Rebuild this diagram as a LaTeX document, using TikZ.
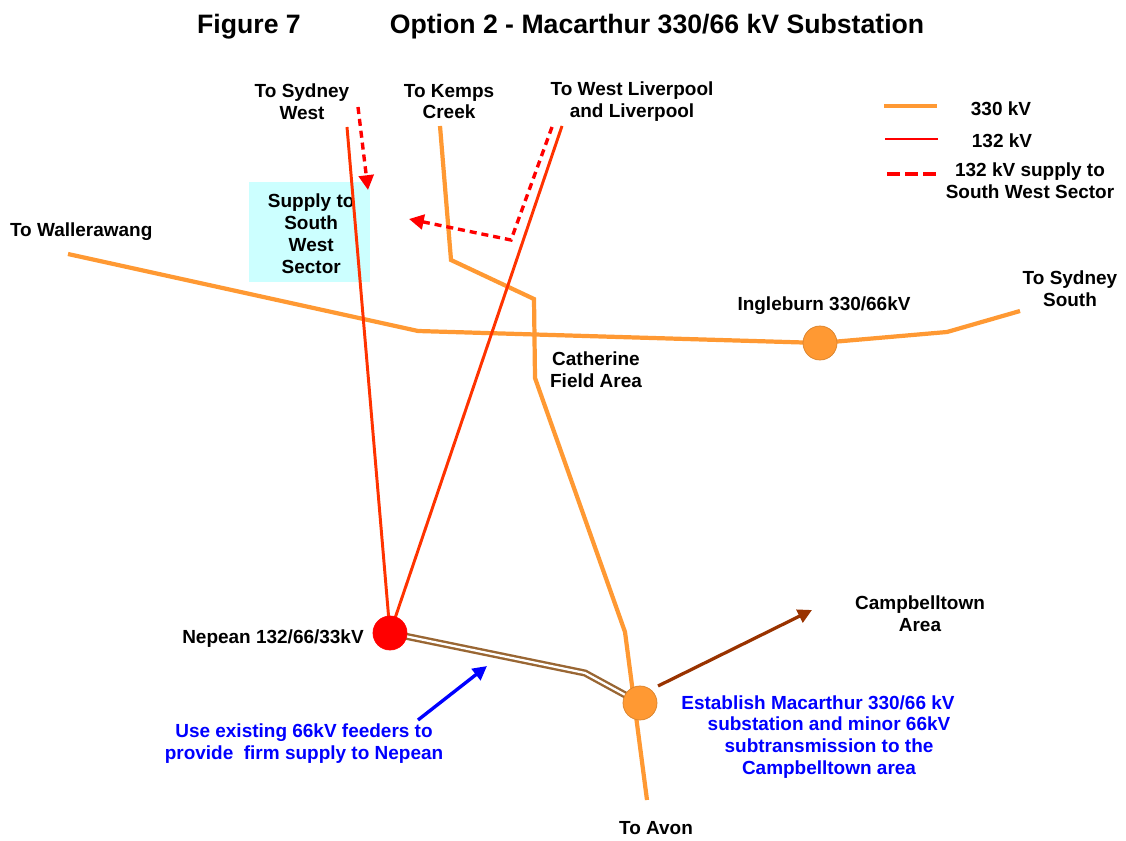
\documentclass[tikz,border=0pt]{standalone}
\usepackage{fontspec}
\setmainfont{Liberation Sans}
\usetikzlibrary{arrows.meta}
\definecolor{line330}{HTML}{FF9933}
\definecolor{line132}{HTML}{FF3300}
\definecolor{supply}{HTML}{FF0000}
\definecolor{feeder}{HTML}{996633}
\definecolor{newsub}{HTML}{993300}
\definecolor{sector}{HTML}{CCFFFF}
\tikzset{
  lbl/.style={font=\bfseries\fontsize{13.5}{15.6}\selectfont,align=center,inner sep=0pt},
  note/.style={lbl,text=blue},
  ttl/.style={font=\bfseries\fontsize{18.95}{22}\selectfont,inner sep=0pt},
  hv/.style={line330,line width=3pt,line join=miter},
  lv/.style={line132,line width=2.1pt},
  sup/.style={supply,line width=2.4pt,dash pattern=on 5pt off 3.5pt,
    -{Triangle[length=10.5pt,width=10.5pt]}},
  sub/.style={circle,minimum size=24.2pt,inner sep=0pt,line width=0.5pt}
}

\begin{document}
\begin{tikzpicture}
\useasboundingbox (0,0) rectangle (28.15,21);

% title
\node[ttl] (figno) at (6.225,20.34) {Figure 7};
\node[ttl] (title) at (16.425,20.34) {Option 2 - Macarthur 330/66 kV Substation};

% sector box
\node[fill=sector,inner sep=0pt,minimum width=3.025cm,minimum height=2.5cm] (sector)
    at (7.74,15.2) {};
\node[lbl] (sectorName) at (7.78,15.15) {Supply to\\South\\West\\Sector};

% substations and line ends
\coordinate (nepean) at (9.75,5.175);
\coordinate (macarthur) at (16,3.425);
\coordinate (ingleburn) at (20.5,12.425);
\coordinate (wallEnd) at (1.7,14.65);
\coordinate (wallBend) at (10.45,12.725);
\coordinate (southBend) at (23.675,12.7);
\coordinate (southEnd) at (25.5,13.225);
\coordinate (kempsEnd) at (11,17.85);
\coordinate (kempsA) at (11.275,14.5);
\coordinate (kempsB) at (13.35,13.525);
\coordinate (kempsC) at (13.375,11.55);
\coordinate (kempsD) at (15.625,5.2);
\coordinate (avonEnd) at (16.175,1);
\coordinate (westEnd) at (8.675,17.825);
\coordinate (livEnd) at (14.05,17.85);
\coordinate (feederBend) at (14.625,4.175);

% 330 kV
\draw[hv] (wallEnd) -- (wallBend) -- (ingleburn) -- (southBend) -- (southEnd);
\draw[hv] (kempsEnd) -- (kempsA) -- (kempsB) -- (kempsC) -- (kempsD)
    -- (avonEnd);

% 132 kV
\draw[lv] (westEnd) -- (nepean);
\draw[lv] (livEnd) -- (nepean);

% 132 kV supply
\coordinate (supAStart) at (8.95,18.325);
\coordinate (supAEnd) at (9.2,16.25);
\coordinate (supBStart) at (13.8,17.825);
\coordinate (supBBend) at (12.775,15);
\coordinate (supBEnd) at (10.225,15.525);
\draw[sup] (supAStart) -- (supAEnd);
\draw[sup] (supBStart) -- (supBBend) -- (supBEnd);

% existing feeders
\draw[feeder,line width=1.7pt,double=white,double distance=1.6pt]
    (nepean) -- (feederBend) -- (macarthur);

% substations
\node[sub,fill=supply,draw=supply] (nepeanSub) at (nepean) {};
\node[sub,fill=line330,draw=line330!85!black] (macarthurSub) at (macarthur) {};
\node[sub,fill=line330,draw=line330!85!black] (ingleburnSub) at (ingleburn) {};

% arrows
\coordinate (campStart) at (16.45,3.85);
\coordinate (campEnd) at (20.3,5.75);
\draw[newsub,line width=2.3pt,-{Triangle[length=10pt,width=10pt]}] (campStart) -- (campEnd);
\coordinate (useStart) at (10.45,3);
\coordinate (useEnd) at (12.175,4.35);
\draw[blue,line width=2.4pt,-{Triangle[length=10pt,width=10pt]}] (useStart) -- (useEnd);

% labels
\node[lbl] (toWest) at (7.55,18.46) {To Sydney\\West};
\node[lbl] (toKemps) at (11.225,18.46) {To Kemps\\Creek};
\node[lbl] (toLiv) at (15.8,18.46) {To West Liverpool\\and Liverpool};
\node[lbl] (toWall) at (2.03,15.21) {To Wallerawang};
\node[lbl] (ingName) at (20.6,13.36) {Ingleburn 330/66kV};
\node[lbl] (toSouth) at (26.75,13.78) {To Sydney\\South};
\node[lbl] (field) at (14.9,11.76) {Catherine\\Field Area};
\node[lbl] (nepName) at (6.825,5.04) {Nepean 132/66/33kV};
\node[lbl] (campArea) at (23,5.66) {Campbelltown\\Area};
\node[lbl] (toAvon) at (16.4,0.29) {To Avon};
\node[note] (useNote) at (7.6,2.4) {Use existing 66kV feeders to\\provide\ \ firm supply to Nepean};
\node[note] (macNote) at (20.725,2.575) {Establish Macarthur 330/66 kV\rule{0.55cm}{0pt}\\substation and minor 66kV\\subtransmission to the\\Campbelltown area};

% legend
\coordinate (keyHvA) at (22.1,18.35);
\coordinate (keyHvB) at (23.425,18.35);
\coordinate (keyLvA) at (22.125,17.525);
\coordinate (keyLvB) at (23.45,17.525);
\coordinate (keySupA) at (22.175,16.65);
\coordinate (keySupB) at (23.425,16.65);
\draw[hv] (keyHvA) -- (keyHvB);
\draw[supply,line width=2.1pt] (keyLvA) -- (keyLvB);
\draw[supply,line width=2.5pt,dash pattern=on 9.2pt off 3.6pt] (keySupA) -- (keySupB);
\node[lbl] (keyHv) at (25.025,18.27) {330 kV};
\node[lbl] (keyLv) at (25.05,17.47) {132 kV};
\node[lbl] (keySup) at (25.75,16.48) {132 kV supply to\\South West Sector};

\end{tikzpicture}
\end{document}
